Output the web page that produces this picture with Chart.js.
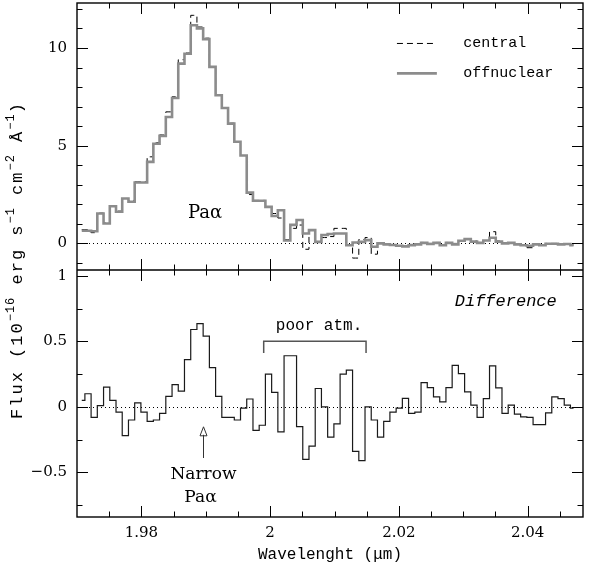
<!DOCTYPE html>
<html>
<head>
<meta charset="utf-8">
<script src="https://cdn.jsdelivr.net/npm/chart.js@4.4.1/dist/chart.umd.min.js"></script>
<style>
  html, body { margin: 0; padding: 0; background: #fff; }
</style>
</head>
<body>
<canvas id="grafico" width="591" height="576"></canvas>
<script>
// centre of each spectral bin (micron)
const wavelength = [
  1.97074, 1.97171, 1.97267, 1.97364, 1.97461, 1.97558, 1.97654, 1.97751, 1.97848, 1.97944,
  1.98041, 1.98138, 1.98234, 1.98331, 1.98428, 1.98525, 1.98621, 1.98718, 1.98815, 1.98911,
  1.99008, 1.99105, 1.99201, 1.99298, 1.99395, 1.99492, 1.99588, 1.99685, 1.99782, 1.99878,
  1.99975, 2.00072, 2.00168, 2.00265, 2.00362, 2.00459, 2.00555, 2.00652, 2.00749, 2.00845,
  2.00942, 2.01039, 2.01135, 2.01232, 2.01329, 2.01426, 2.01522, 2.01619, 2.01716, 2.01812,
  2.01909, 2.02006, 2.02102, 2.02199, 2.02296, 2.02393, 2.02489, 2.02586, 2.02683, 2.02779,
  2.02876, 2.02973, 2.03069, 2.03166, 2.03263, 2.03360, 2.03456, 2.03553, 2.03650, 2.03746,
  2.03843, 2.03940, 2.04036, 2.04133, 2.04230, 2.04327, 2.04423, 2.04520, 2.04617, 2.04713
];

// flux, 1e-16 erg/s/cm2/A
const fluxCentral = [
  0.70, 0.70, 0.55, 1.55, 1.05, 1.90, 1.65, 2.30, 2.20, 3.15,
  3.15, 4.43, 5.15, 5.55, 6.73, 7.50, 9.40, 9.74, 11.67, 11.07,
  10.50, 9.05, 7.60, 6.95, 6.15, 5.20, 4.50, 2.50, 2.20, 2.20,
  1.87, 1.53, 1.30, 0.20, 0.77, 0.94, -0.30, 0.68, 0.10, 0.30,
  0.35, 0.77, 0.77, -0.10, -0.75, 0.20, 0.30, -0.55, 0.02, -0.05,
  -0.08, -0.10, -0.12, -0.05, -0.02, 0.05, 0.00, 0.05, -0.05, 0.05,
  0.00, 0.12, 0.20, 0.12, 0.05, 0.15, 0.60, 0.12, 0.00, 0.02,
  -0.05, -0.08, -0.22, -0.05, -0.08, 0.00, 0.00, -0.03, -0.02, -0.08
];

const fluxOffnuclear = [
  0.65, 0.65, 0.62, 1.53, 1.02, 1.90, 1.62, 2.30, 2.13, 3.12,
  3.12, 4.17, 5.10, 5.50, 6.47, 7.44, 9.20, 9.70, 11.16, 11.00,
  10.45, 9.03, 7.58, 6.93, 6.13, 5.20, 4.50, 2.60, 2.18, 2.18,
  1.87, 1.40, 1.70, 0.15, 0.95, 1.20, 0.51, 0.68, 0.08, 0.43,
  0.48, 0.51, 0.51, -0.09, 0.05, 0.08, 0.17, -0.17, 0.00, -0.05,
  -0.08, -0.12, -0.15, -0.09, -0.05, 0.03, -0.03, 0.03, -0.09, 0.03,
  -0.05, 0.14, 0.22, 0.09, 0.03, 0.15, 0.29, 0.09, 0.00, 0.03,
  -0.05, -0.09, -0.12, -0.05, -0.09, -0.02, -0.02, -0.05, -0.03, -0.09
];

const fluxDifference = [
  0.05, 0.10, -0.08, 0.01, 0.15, 0.05, -0.04, -0.22, -0.10, 0.03,
  -0.04, -0.11, -0.10, -0.05, 0.08, 0.17, 0.12, 0.36, 0.59, 0.635,
  0.54, 0.30, 0.08, -0.08, -0.08, -0.10, -0.01, 0.06, -0.18, -0.14,
  0.25, 0.11, -0.19, 0.39, 0.39, -0.15, -0.40, -0.30, 0.14, 0.00,
  -0.23, -0.13, 0.25, 0.28, -0.34, -0.41, 0.00, -0.10, -0.23, -0.11,
  -0.04, -0.01, 0.065, -0.05, -0.04, 0.185, 0.147, 0.076, 0.038, 0.147,
  0.317, 0.254, 0.114, 0.013, -0.08, 0.063, 0.312, 0.145, -0.05, 0.013,
  -0.056, -0.076, -0.08, -0.135, -0.135, -0.046, 0.076, 0.063, 0.013, -0.01
];

const xTickValues = [1.98, 2.00, 2.02, 2.04];
const xTickLabels = ["1.98", "2", "2.02", "2.04"];
const xMinorTicks = [1.975, 1.985, 1.99, 1.995, 2.005, 2.01, 2.015, 2.025, 2.03, 2.035, 2.045];

const topTickValues = [0, 5, 10];
const topTickLabels = ["0", "5", "10"];
const topMinorTicks = [-1, 1, 2, 3, 4, 6, 7, 8, 9, 11, 12];

const bottomTickValues = [-0.5, 0, 0.5, 1];
const bottomTickLabels = ["\u22120.5", "0", "0.5", "1"];
const bottomMinorTicks = [-0.75, -0.25, 0.25, 0.75];

const poorAtmRange = [1.9990, 2.0149];
const narrowLine = 1.98953;

const serie = ys => wavelength.map((w, i) => ({ x: w, y: ys[i] }));

// frame, inward ticks, dotted zero lines, legend and notes
const marcos = {
  id: "marcos",
  beforeDatasetsDraw(chart) {
    const { ctx, chartArea: a, scales } = chart;
    ctx.save();
    ctx.strokeStyle = "#000";
    ctx.lineWidth = 1;
    ctx.setLineDash([1, 3]);
    [scales.yTop, scales.yBot].forEach(s => {
      const y = Math.round(s.getPixelForValue(0)) + 0.5;
      ctx.beginPath();
      ctx.moveTo(a.left, y);
      ctx.lineTo(a.right, y);
      ctx.stroke();
    });
    ctx.restore();
  },
  afterDatasetsDraw(chart) {
    const { ctx, chartArea: a, scales: { x, yTop, yBot } } = chart;
    const mid = yTop.bottom;
    ctx.save();
    ctx.strokeStyle = "#000";
    ctx.lineWidth = 1.4;
    ctx.strokeRect(a.left, a.top, a.right - a.left, a.bottom - a.top);
    ctx.beginPath();
    ctx.moveTo(a.left, mid);
    ctx.lineTo(a.right, mid);
    ctx.stroke();

    ctx.lineWidth = 1;
    ctx.beginPath();
    const xt = (vals, len) => vals.forEach(v => {
      const px = Math.round(x.getPixelForValue(v)) + 0.5;
      ctx.moveTo(px, a.top); ctx.lineTo(px, a.top + len);
      ctx.moveTo(px, mid); ctx.lineTo(px, mid - len);
      ctx.moveTo(px, mid); ctx.lineTo(px, mid + len);
      ctx.moveTo(px, a.bottom); ctx.lineTo(px, a.bottom - len);
    });
    xt(xTickValues, 11);
    xt(xMinorTicks, 5.5);
    const yt = (s, vals, len) => vals.forEach(v => {
      const py = Math.round(s.getPixelForValue(v)) + 0.5;
      ctx.moveTo(a.left, py); ctx.lineTo(a.left + len, py);
      ctx.moveTo(a.right, py); ctx.lineTo(a.right - len, py);
    });
    yt(yTop, topTickValues, 11);
    yt(yTop, topMinorTicks, 5.5);
    yt(yBot, bottomTickValues, 11);
    yt(yBot, bottomMinorTicks, 5.5);
    ctx.stroke();

    // legend
    const lx0 = x.getPixelForValue(2.0197), lx1 = x.getPixelForValue(2.0259);
    const tx = x.getPixelForValue(2.0300);
    const ly1 = yTop.getPixelForValue(10.23), ly2 = yTop.getPixelForValue(8.70);
    ctx.beginPath();
    ctx.setLineDash([6, 4]);
    ctx.lineWidth = 1;
    ctx.strokeStyle = "#000";
    ctx.moveTo(lx0, ly1); ctx.lineTo(lx1, ly1);
    ctx.stroke();
    ctx.beginPath();
    ctx.setLineDash([]);
    ctx.lineWidth = 2.6;
    ctx.strokeStyle = "#8c8c8c";
    ctx.moveTo(lx0, ly2); ctx.lineTo(lx1, ly2);
    ctx.stroke();
    ctx.fillStyle = "#000";
    ctx.textBaseline = "middle";
    ctx.textAlign = "left";
    ctx.font = "15px 'Liberation Mono'";
    ctx.fillText("central", tx, ly1);
    ctx.fillText("offnuclear", tx, ly2);

    // notes
    ctx.textAlign = "center";
    ctx.font = "18px 'DejaVu Serif'";
    ctx.fillText("Pa\u03b1", x.getPixelForValue(1.9899), yTop.getPixelForValue(1.55));
    ctx.font = "italic 17px 'Liberation Mono'";
    ctx.fillText("Difference", x.getPixelForValue(2.0366), yBot.getPixelForValue(0.80));
    ctx.font = "16px 'Liberation Mono'";
    ctx.fillText("poor atm.", x.getPixelForValue(2.0076), yBot.getPixelForValue(0.615));

    const bx0 = x.getPixelForValue(poorAtmRange[0]), bx1 = x.getPixelForValue(poorAtmRange[1]);
    const by = yBot.getPixelForValue(0.50), byEnd = yBot.getPixelForValue(0.41);
    ctx.strokeStyle = "#555";
    ctx.lineWidth = 1.5;
    ctx.beginPath();
    ctx.moveTo(bx0, byEnd); ctx.lineTo(bx0, by); ctx.lineTo(bx1, by); ctx.lineTo(bx1, byEnd);
    ctx.stroke();

    const ax = Math.round(x.getPixelForValue(narrowLine)) + 0.5;
    const aTop = yBot.getPixelForValue(-0.152), aBot = yBot.getPixelForValue(-0.39);
    ctx.lineWidth = 1;
    ctx.strokeStyle = "#333";
    ctx.beginPath();
    ctx.moveTo(ax, aBot); ctx.lineTo(ax, aTop + 8);
    ctx.stroke();
    ctx.beginPath();
    ctx.moveTo(ax, aTop); ctx.lineTo(ax - 3.5, aTop + 9); ctx.lineTo(ax + 3.5, aTop + 9); ctx.closePath();
    ctx.stroke();

    ctx.fillStyle = "#000";
    ctx.font = "17px 'DejaVu Serif'";
    ctx.fillText("Narrow", ax, yBot.getPixelForValue(-0.513));
    ctx.fillText("Pa\u03b1", ax - 3, yBot.getPixelForValue(-0.69));

    // y title spanning both panels
    const parts = [
      ["Flux (10", false], ["\u221216", true], [" erg s", false], ["\u22121", true],
      [" cm", false], ["\u22122", true], [" \u00c5", false], ["\u22121", true], [")", false]
    ];
    const fMain = "17px 'Liberation Mono'", fSup = "12px 'Liberation Mono'";
    const setFont = sup => {
      ctx.font = sup ? fSup : fMain;
      ctx.letterSpacing = sup ? "1px" : "2px";
    };
    let total = 0;
    parts.forEach(([t, sup]) => { setFont(sup); total += ctx.measureText(t).width; });
    ctx.translate(17, (a.top + a.bottom) / 2);
    ctx.rotate(-Math.PI / 2);
    ctx.textAlign = "left";
    ctx.textBaseline = "middle";
    let cx = -total / 2;
    parts.forEach(([t, sup]) => {
      setFont(sup);
      ctx.fillText(t, cx, sup ? -6 : 0);
      cx += ctx.measureText(t).width;
    });
    ctx.restore();
  }
};

const tickFont = { family: "DejaVu Serif", size: 15 };

// keep the plot area where the frame is, whatever the label sizes are
const noLabelPadding = s => {
  s.paddingTop = 0; s.paddingBottom = 0; s.paddingLeft = 0; s.paddingRight = 0;
};

new Chart(document.getElementById("grafico").getContext("2d"), {
  type: "line",
  data: {
    datasets: [
      { label: "offnuclear", data: serie(fluxOffnuclear), yAxisID: "yTop", stepped: "middle",
        borderColor: "#8c8c8c", borderWidth: 2.6, pointRadius: 0 },
      { label: "central", data: serie(fluxCentral), yAxisID: "yTop", stepped: "middle",
        borderColor: "#000", borderWidth: 1, borderDash: [6, 4], pointRadius: 0 },
      { label: "Difference", data: serie(fluxDifference), yAxisID: "yBot", stepped: "middle",
        borderColor: "#1a1a1a", borderWidth: 1.2, pointRadius: 0 }
    ]
  },
  options: {
    responsive: false,
    animation: false,
    devicePixelRatio: 1,
    layout: { padding: { top: 3, right: 8, left: 0, bottom: 0 } },
    plugins: { legend: { display: false }, tooltip: { enabled: false } },
    scales: {
      x: {
        type: "linear",
        min: 1.970,
        max: 2.0486,
        grid: { display: false, drawTicks: false },
        border: { display: false },
        afterBuildTicks: s => { s.ticks = xTickValues.map(v => ({ value: v })); },
        afterFit: s => { s.height = 59; noLabelPadding(s); },
        ticks: { autoSkip: false, maxRotation: 0, padding: 7, color: "#000", font: tickFont,
                 callback: (v, i) => xTickLabels[i] },
        title: { display: true, text: "Wavelenght (\u03bcm)", color: "#000",
                 font: { family: "Liberation Mono", size: 16 }, padding: { top: 0, bottom: 12 } }
      },
      yBot: {
        type: "linear",
        position: "left",
        stack: "panels",
        stackWeight: 247,
        min: -0.84,
        max: 1.044,
        grid: { display: false, drawTicks: false },
        border: { display: false },
        afterBuildTicks: s => { s.ticks = bottomTickValues.map(v => ({ value: v })); },
        afterFit: s => { s.width = 77; noLabelPadding(s); },
        ticks: { autoSkip: false, padding: 10, color: "#000", font: tickFont,
                 callback: (v, i) => bottomTickLabels[i] }
      },
      yTop: {
        type: "linear",
        position: "left",
        stack: "panels",
        stackWeight: 267,
        min: -1.36,
        max: 12.3,
        grid: { display: false, drawTicks: false },
        border: { display: false },
        afterBuildTicks: s => { s.ticks = topTickValues.map(v => ({ value: v })); },
        afterFit: s => { s.width = 77; noLabelPadding(s); },
        ticks: { autoSkip: false, padding: 10, color: "#000", font: tickFont,
                 callback: (v, i) => topTickLabels[i] }
      }
    }
  },
  plugins: [marcos]
});
</script>
</body>
</html>
